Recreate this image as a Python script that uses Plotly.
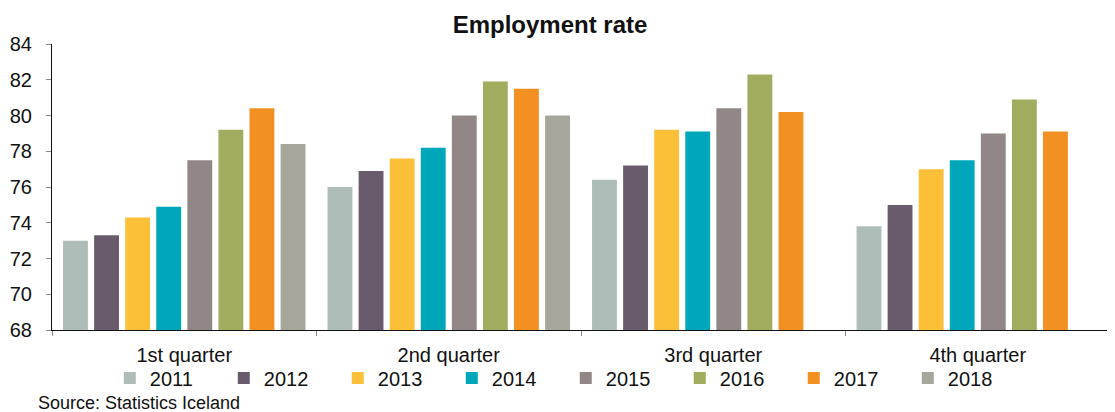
import plotly.graph_objects as go

quarters = ["1st quarter", "2nd quarter", "3rd quarter", "4th quarter"]
years = ["2011", "2012", "2013", "2014", "2015", "2016", "2017", "2018"]
v2011 = [73.0, 76.0, 76.4, 73.8]
v2012 = [73.3, 76.9, 77.2, 75.0]
v2013 = [74.3, 77.6, 79.2, 77.0]
v2014 = [74.9, 78.2, 79.1, 77.5]
v2015 = [77.5, 80.0, 80.4, 79.0]
v2016 = [79.2, 81.9, 82.3, 80.9]
v2017 = [80.4, 81.5, 80.2, 79.1]
v2018 = [78.4, 80.0, None, None]
series = [v2011, v2012, v2013, v2014, v2015, v2016, v2017, v2018]
colors = ["#AFBDB8", "#685B6B", "#FBBF38", "#00A7BA", "#918787", "#A1AC5F", "#F39022", "#A6A69B"]

FONT = "Liberation Sans, Arial, sans-serif"

fig = go.Figure()
for y, vals, c in zip(years, series, colors):
    fig.add_trace(go.Bar(x=quarters, y=vals, name=y, marker=dict(color=c, line=dict(width=0))))

W, H = 1107, 404  # page body has an 8px margin
fig.update_layout(
    width=W, height=H,
    margin=dict(l=44, r=5, t=36, b=82, autoexpand=False),
    paper_bgcolor="white", plot_bgcolor="white",
    font=dict(family=FONT, size=20, color="#111111"),
    barmode="group", bargap=0.06, bargroupgap=0.2,
    title=dict(text="<b>Employment rate</b>", x=542 / W, xanchor="center", y=1 - 17 / H, yanchor="middle",
               font=dict(size=24, family=FONT, color="#111111")),
    legend=dict(orientation="h", x=0.0546, xanchor="left", y=-0.168, yanchor="middle",
                font=dict(size=20, family=FONT), entrywidth=69, itemwidth=30,
                traceorder="normal", bgcolor="rgba(0,0,0,0)"),
    showlegend=True,
)
fig.update_yaxes(range=[68, 84], dtick=2, showgrid=False, zeroline=False,
                 showline=True, linecolor="#111111", linewidth=1,
                 ticks="outside", ticklen=5, tickcolor="#888888",
                 ticklabelstandoff=10,
                 tickfont=dict(size=20, family=FONT))
fig.update_xaxes(showgrid=False, showline=True, linecolor="#111111", linewidth=1,
                 ticks="outside", tickson="boundaries", ticklen=5, tickcolor="#888888",
                 ticklabelstandoff=7,
                 tickfont=dict(size=20, family=FONT))
fig.add_annotation(text="Source: Statistics Iceland", xref="paper", yref="paper",
                   x=-0.015, xanchor="left", y=-0.255, yanchor="middle", showarrow=False,
                   font=dict(size=18, family=FONT, color="#111111"))

fig.write_html("out.html")
